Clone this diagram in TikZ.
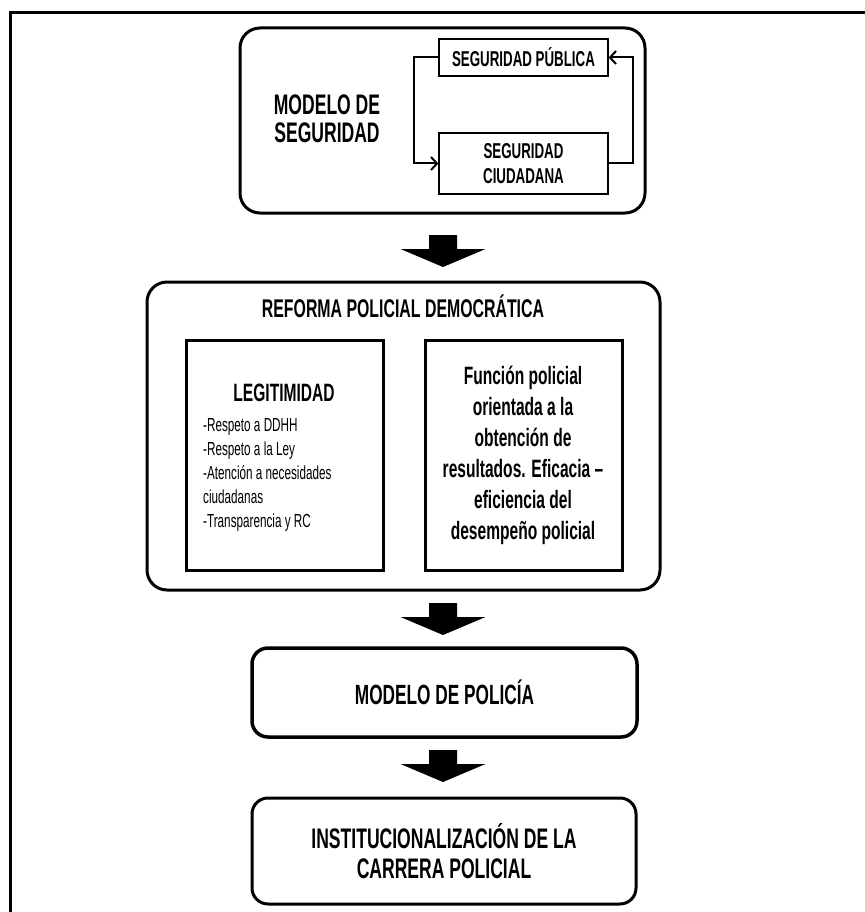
\documentclass[tikz,border=0pt]{standalone}
\usepackage{fontspec}
\setmainfont{Liberation Sans}[FakeStretch=0.62]
\usetikzlibrary{arrows.meta,calc}

% solid block arrow pointing down, #1 = top centre of the shaft
\newcommand\downblock[1]{%
  \fill (#1) ++(-14,0) -- ++(28,0) -- ++(0,14) -- ++(28.5,0)
        -- ++(-42.5,18) -- ++(-42.5,-18) -- ++(28.5,0) -- cycle;}

\begin{document}
\begin{tikzpicture}[x=1pt,y=-1pt,
  panel/.style={draw, line width=3pt, rounded corners=20pt, inner sep=0pt},
  stage/.style={draw, line width=3.5pt, rounded corners=16pt, inner sep=0pt},
  tag/.style={draw, line width=1.3pt, inner sep=0pt, align=center,
              font=\bfseries\fontsize{21.5}{25}\selectfont},
  card/.style={draw, line width=3pt, inner sep=0pt},
  big/.style={inner sep=0pt, align=center, font=\bfseries\fontsize{28.3}{28}\selectfont},
  mid/.style={inner sep=0pt, align=center, font=\bfseries\fontsize{25.1}{31}\selectfont},
  link/.style={line width=2pt, -{Straight Barb[length=6pt,width=13pt,line width=2pt]}}]

\useasboundingbox (0,0) rectangle (864,912);

% page frame
\draw[line width=3pt] (10,930) -- (10,13) -- (880,13);

% security model
\node[panel, minimum width=405pt, minimum height=185pt] (seg) at (442.5,120.5) {};
\node[big] (segt) at (327,119) {MODELO DE\\SEGURIDAD};
\node[tag, minimum width=169pt, minimum height=37pt] (pub) at (523.5,57.5) {SEGURIDAD PÚBLICA};
\node[tag, minimum width=169pt, minimum height=61pt] (ciu) at (523.5,163.5) {SEGURIDAD\\CIUDADANA};
\draw[link] (pub.west) -- ++(-24,0) |- (ciu.west);
\draw[link] (ciu.east) -- ++(24,0) |- (pub.east);

\downblock{443,235}

% democratic police reform
\node[panel, minimum width=513pt, minimum height=308pt] (ref) at (403.5,436) {};
\node[mid, font=\bfseries\fontsize{25.6}{31}\selectfont] (reft) at (403,306) {REFORMA POLICIAL DEMOCRÁTICA};
\node[card, minimum width=197pt, minimum height=230pt] (leg) at (284.5,455) {};
\node[card, minimum width=197pt, minimum height=230pt] (fun) at (523.5,455) {};
\node[mid] (legt) at (284,393) {LEGITIMIDAD};
\node[inner sep=0pt, anchor=north west, align=left,
      font=\fontsize{18.9}{24}\selectfont] (legl) at (203,418)
  {-Respeto a DDHH\\-Respeto a la Ley\\-Atención a necesidades\\ciudadanas\\-Transparencia y RC};
\node[mid] (funt) at (523,455)
  {Función policial\\orientada a la\\obtención de\\resultados. Eficacia –\\eficiencia del\\desempeño policial};

\downblock{443,603}

% police model
\node[stage, minimum width=385pt, minimum height=89pt, font=\bfseries\fontsize{27.8}{30}\selectfont]
  (pol) at (444.5,692.5) {MODELO DE POLICÍA};

\downblock{443,750}

% police career
\node[stage, line width=3pt, minimum width=384pt, minimum height=106pt, align=center,
      font=\bfseries\fontsize{28.3}{30}\selectfont]
  (car) at (444,851) {INSTITUCIONALIZACIÓN DE LA\\CARRERA POLICIAL};

\end{tikzpicture}
\end{document}
